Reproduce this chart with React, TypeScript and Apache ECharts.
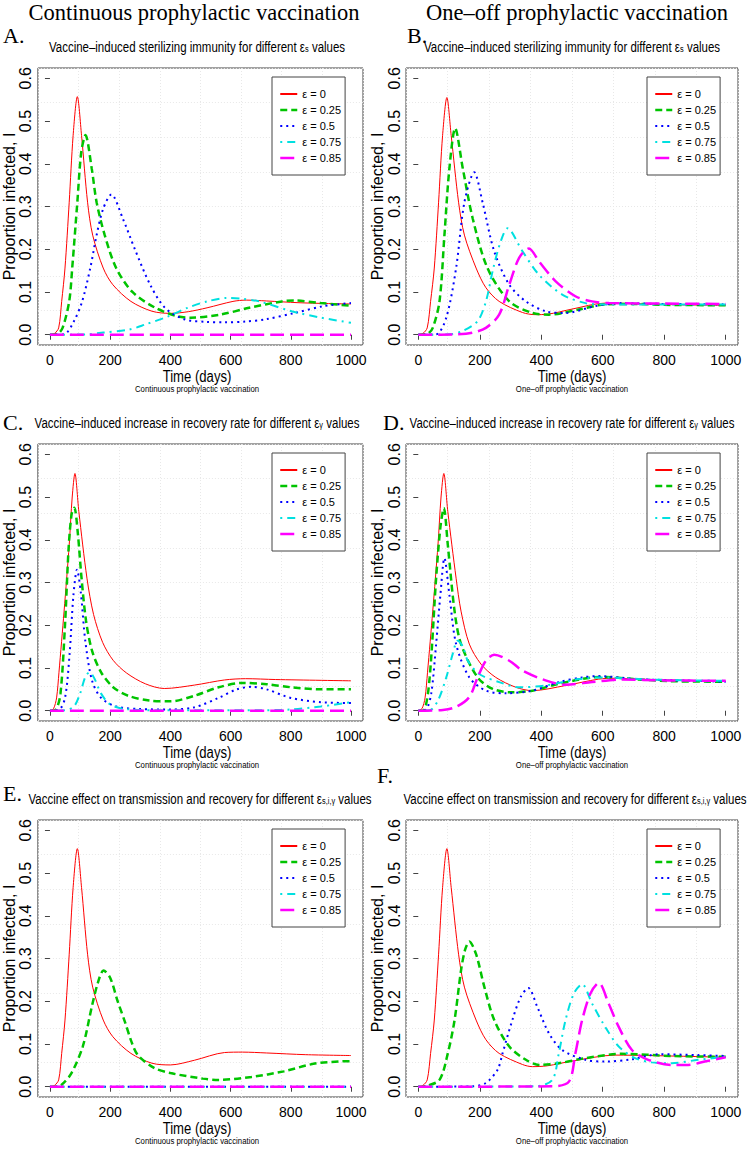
import React, { useEffect, useRef } from "react";
import * as echarts from "echarts";

type Pt = [number, number];

const epsLabels = ["ε = 0", "ε = 0.25", "ε = 0.5", "ε = 0.75", "ε = 0.85"];
const xTickValues = [0, 200, 400, 600, 800, 1000];
const yTickValues = [0, 0.1, 0.2, 0.3, 0.4, 0.5, 0.6];
const columnHeaders = ["Continuous prophylactic vaccination", "One–off prophylactic vaccination"];
const panelLetters = ["A.", "B.", "C.", "D.", "E.", "F."];
const titleStems = [
  "Vaccine–induced sterilizing immunity for different ε",
  "Vaccine–induced increase in recovery rate for different ε",
  "Vaccine effect on transmission and recovery for different ε",
];
const titleSubs = ["s", "γ", "s,i,γ"];
const xName = "Time (days)";
const yName = "Proportion infected, I";

// Panel A: continuous, sterilizing immunity
const A_e0: Pt[] = [[0,0],[15,0.003],[29,0.016],[39,0.078],[50,0.156],[64,0.31],[77,0.466],[91,0.557],[105,0.466],[125,0.31],[142,0.233],[177,0.156],[209,0.117],[269,0.078],[339,0.055],[400,0.05],[460,0.054],[522,0.063],[608,0.078],[652,0.081],[720,0.079],[824,0.075],[920,0.073],[1000,0.072]];
const A_e25: Pt[] = [[0,0],[25,0.002],[42,0.016],[64,0.078],[74,0.156],[91,0.31],[104,0.427],[118,0.467],[139,0.388],[155,0.31],[182,0.233],[220,0.156],[274,0.1],[350,0.063],[425,0.043],[468,0.04],[565,0.047],[662,0.063],[770,0.078],[813,0.08],[900,0.074],[1000,0.068]];
const A_e50: Pt[] = [[0,0],[47,0.001],[80,0.032],[107,0.078],[134,0.156],[155,0.233],[177,0.295],[204,0.328],[242,0.272],[285,0.195],[333,0.117],[382,0.063],[447,0.036],[520,0.03],[580,0.029],[650,0.031],[716,0.036],[813,0.051],[910,0.067],[1000,0.074]];
const A_e75: Pt[] = [[0,0],[123,0.001],[177,0.005],[263,0.012],[317,0.024],[393,0.043],[457,0.063],[522,0.078],[587,0.086],[640,0.084],[695,0.078],[803,0.055],[900,0.04],[1000,0.028]];
const A_e85: Pt[] = [[0,0],[1000,0]];

// Panel B: one-off, sterilizing immunity
const B_e0: Pt[] = [[0,0],[15,0.003],[29,0.016],[40,0.078],[52,0.156],[66,0.31],[79,0.466],[93,0.555],[107,0.466],[131,0.31],[150,0.233],[188,0.156],[220,0.11],[263,0.078],[339,0.052],[380,0.047],[420,0.048],[500,0.06],[608,0.074],[700,0.073],[850,0.07],[1000,0.069]];
const B_e25: Pt[] = [[0,0],[30,0.002],[47,0.016],[69,0.078],[85,0.233],[101,0.388],[120,0.483],[145,0.388],[177,0.272],[225,0.156],[296,0.078],[371,0.051],[425,0.047],[522,0.059],[608,0.071],[700,0.072],[800,0.07],[1000,0.069]];
const B_e50: Pt[] = [[0,0],[58,0.001],[91,0.04],[123,0.156],[150,0.31],[182,0.38],[209,0.31],[247,0.195],[296,0.117],[350,0.078],[414,0.055],[479,0.051],[576,0.067],[662,0.074],[800,0.072],[1000,0.071]];
const B_e75: Pt[] = [[0,0],[101,0.001],[145,0.009],[193,0.032],[220,0.078],[244,0.156],[268,0.218],[290,0.249],[339,0.195],[393,0.14],[468,0.094],[544,0.074],[608,0.071],[800,0.071],[1000,0.071]];
const B_e85: Pt[] = [[0,0],[123,0.001],[177,0.005],[220,0.016],[263,0.047],[296,0.117],[328,0.18],[360,0.202],[393,0.171],[447,0.125],[511,0.09],[565,0.078],[620,0.074],[800,0.073],[1000,0.072]];

// Panel C: continuous, recovery rate
const C_e0: Pt[] = [[0,0],[12,0.005],[22,0.03],[30,0.09],[47,0.233],[64,0.388],[74,0.5],[83,0.555],[96,0.466],[123,0.31],[145,0.225],[175,0.16],[210,0.118],[255,0.088],[317,0.063],[380,0.052],[480,0.06],[580,0.072],[650,0.075],[750,0.073],[1000,0.07]];
const C_e25: Pt[] = [[0,0],[20,0.003],[35,0.04],[50,0.2],[62,0.38],[72,0.46],[81,0.475],[92,0.42],[105,0.31],[120,0.21],[140,0.14],[170,0.09],[210,0.055],[260,0.035],[330,0.024],[400,0.022],[480,0.035],[560,0.055],[640,0.065],[720,0.062],[800,0.055],[900,0.05],[1000,0.05]];
const C_e50: Pt[] = [[0,0],[30,0.002],[50,0.03],[65,0.13],[78,0.27],[90,0.33],[102,0.28],[118,0.16],[140,0.07],[170,0.03],[220,0.01],[300,0.004],[400,0.003],[480,0.008],[560,0.03],[620,0.05],[670,0.056],[720,0.05],[800,0.03],[900,0.02],[1000,0.018]];
const C_e75: Pt[] = [[0,0],[50,0.001],[80,0.01],[100,0.04],[118,0.08],[132,0.09],[148,0.075],[170,0.04],[200,0.015],[250,0.004],[400,0.001],[700,0.001],[800,0.003],[900,0.01],[1000,0.02]];
const C_e85: Pt[] = [[0,0],[1000,0]];

// Panel D: one-off, recovery rate
const D_e0: Pt[] = [[0,0],[12,0.005],[22,0.03],[30,0.09],[47,0.233],[64,0.388],[74,0.5],[83,0.555],[96,0.466],[123,0.31],[139,0.233],[166,0.156],[204,0.109],[252,0.078],[317,0.055],[371,0.047],[479,0.059],[587,0.074],[640,0.076],[750,0.073],[1000,0.069]];
const D_e25: Pt[] = [[0,0],[20,0.003],[37,0.078],[58,0.31],[72,0.43],[83,0.474],[96,0.388],[118,0.233],[139,0.156],[193,0.078],[242,0.051],[306,0.043],[371,0.047],[457,0.063],[565,0.078],[600,0.079],[700,0.074],[824,0.069],[1000,0.068]];
const D_e50: Pt[] = [[0,0],[25,0.003],[42,0.04],[58,0.156],[72,0.272],[85,0.357],[101,0.272],[123,0.156],[166,0.078],[220,0.047],[285,0.041],[371,0.047],[457,0.067],[533,0.078],[587,0.081],[716,0.074],[1000,0.068]];
const D_e75: Pt[] = [[0,0],[37,0.001],[64,0.024],[91,0.078],[112,0.133],[128,0.164],[145,0.15],[161,0.117],[198,0.086],[263,0.067],[328,0.055],[414,0.059],[522,0.074],[600,0.078],[750,0.073],[1000,0.07]];
const D_e85: Pt[] = [[0,0],[80,0.002],[123,0.009],[166,0.032],[193,0.078],[220,0.117],[247,0.131],[296,0.117],[339,0.094],[414,0.071],[479,0.061],[565,0.067],[662,0.073],[800,0.071],[1000,0.07]];

// Panel E: continuous, transmission and recovery
const E_e0: Pt[] = [[0,0],[15,0.003],[29,0.016],[39,0.078],[50,0.156],[64,0.31],[77,0.466],[91,0.557],[105,0.466],[125,0.31],[142,0.233],[177,0.156],[209,0.117],[269,0.078],[339,0.055],[400,0.051],[480,0.062],[580,0.08],[640,0.081],[720,0.079],[850,0.075],[1000,0.073]];
const E_e25: Pt[] = [[0,0],[25,0.001],[39,0.005],[70,0.03],[109,0.094],[140,0.19],[160,0.245],[178,0.272],[200,0.255],[225,0.2],[250,0.15],[271,0.105],[292,0.074],[346,0.044],[400,0.032],[508,0.019],[560,0.016],[670,0.023],[777,0.036],[886,0.055],[1000,0.06]];
const E_e50: Pt[] = [[0,0],[1000,0]];
const E_e75: Pt[] = [[0,0],[1000,0]];
const E_e85: Pt[] = [[0,0],[1000,0]];

// Panel F: one-off, transmission and recovery
const F_e0: Pt[] = [[0,0],[15,0.003],[29,0.016],[40,0.078],[52,0.156],[66,0.31],[79,0.466],[93,0.557],[107,0.466],[131,0.31],[150,0.233],[188,0.156],[220,0.11],[263,0.078],[339,0.052],[371,0.047],[420,0.049],[500,0.06],[641,0.074],[750,0.073],[1000,0.069]];
const F_e25: Pt[] = [[0,0],[26,0.002],[69,0.016],[96,0.078],[118,0.156],[139,0.272],[152,0.32],[166,0.34],[188,0.31],[215,0.233],[247,0.156],[296,0.094],[350,0.063],[393,0.051],[457,0.055],[544,0.067],[662,0.077],[824,0.072],[1000,0.07]];
const F_e50: Pt[] = [[0,0],[177,0.001],[220,0.009],[258,0.04],[274,0.078],[306,0.156],[333,0.21],[358,0.231],[387,0.187],[425,0.125],[468,0.086],[544,0.063],[608,0.059],[695,0.064],[781,0.076],[910,0.074],[1000,0.072]];
const F_e75: Pt[] = [[0,0],[382,0.001],[436,0.016],[457,0.078],[479,0.156],[506,0.218],[533,0.24],[565,0.195],[608,0.14],[652,0.094],[705,0.067],[759,0.057],[824,0.055],[910,0.063],[1000,0.07]];
const F_e85: Pt[] = [[0,0],[436,0.001],[490,0.012],[511,0.078],[533,0.156],[560,0.218],[587,0.243],[619,0.195],[652,0.14],[695,0.086],[748,0.063],[824,0.051],[878,0.051],[932,0.059],[1000,0.069]];

const panelSeries: Pt[][][] = [
  [A_e0, A_e25, A_e50, A_e75, A_e85],
  [B_e0, B_e25, B_e50, B_e75, B_e85],
  [C_e0, C_e25, C_e50, C_e75, C_e85],
  [D_e0, D_e25, D_e50, D_e75, D_e85],
  [E_e0, E_e25, E_e50, E_e75, E_e85],
  [F_e0, F_e25, F_e50, F_e75, F_e85],
];

const SANS = "'Liberation Sans', Arial, sans-serif";
const SERIF = "'Liberation Serif', 'Times New Roman', serif";
const NARROW_SCALE = 0.82;

const lineColors = ["#ff0000", "#00c400", "#0000ff", "#00e0e0", "#ff00ff"];
const lineWidths = [1, 2.5, 2, 2, 2.5];
const legendWidths = [2, 2.5, 2, 2, 2.5];
const lineDash: any[] = ["solid", [7, 4], [2, 4], [2, 5, 8, 5], [14, 6]];

const colLeft = [31, 406];
const rowTop = [68, 444, 820];
const plotW = 332;
const plotH = 277;

function buildOption() {
  const grid: any[] = [];
  const xAxis: any[] = [];
  const yAxis: any[] = [];
  const series: any[] = [];
  const legend: any[] = [];
  const graphic: any[] = [];

  for (let p = 0; p < 6; p++) {
    const row = Math.floor(p / 2);
    const col = p % 2;
    const left = colLeft[col];
    const top = rowTop[row];
    grid.push({ left, top, width: plotW, height: plotH, show: true, borderColor: "#444", borderWidth: 1, backgroundColor: "rgba(0,0,0,0)" });

    xAxis.push({
      gridIndex: p, type: "value", min: -40, max: 1040,
      axisLine: { show: false },
      axisTick: { show: true, customValues: xTickValues, length: 5, lineStyle: { color: "#444" } },
      axisLabel: { customValues: xTickValues, margin: 8, fontSize: 14, fontFamily: SANS, color: "#000", formatter: (v: number) => String(v) },
      splitLine: { show: false },
    });
    xAxis.push({
      gridIndex: p, type: "value", min: 0, max: 8, interval: 1,
      axisLine: { show: false }, axisTick: { show: false }, axisLabel: { show: false },
      splitLine: { show: true, lineStyle: { color: "#e8e8e8", width: 1, type: [1, 2] } },
    });
    yAxis.push({
      gridIndex: p, type: "value", min: -0.024, max: 0.624,
      axisLine: { show: false },
      axisTick: { show: true, customValues: yTickValues, length: 5, lineStyle: { color: "#444" } },
      axisLabel: { customValues: yTickValues, rotate: 90, margin: 4, fontSize: 16, fontFamily: SANS, color: "#000", formatter: (v: number) => v.toFixed(1) },
      splitLine: { show: false },
      name: yName, nameLocation: "middle", nameGap: 15,
      nameTextStyle: { fontSize: 16, fontFamily: SANS, color: "#000" },
    });
    yAxis.push({
      gridIndex: p, type: "value", min: 0, max: 8, interval: 1,
      axisLine: { show: false }, axisTick: { show: false }, axisLabel: { show: false },
      splitLine: { show: true, lineStyle: { color: "#e8e8e8", width: 1, type: [1, 2] } },
    });

    panelSeries[p].forEach((data, k) => {
      series.push({
        type: "line", name: epsLabels[k], xAxisIndex: 2 * p, yAxisIndex: 2 * p,
        data, showSymbol: false, symbol: "none", smooth: 0.3,
        lineStyle: { color: lineColors[k], width: lineWidths[k], type: lineDash[k] },
        itemStyle: { color: lineColors[k] },
        silent: true, z: 3,
      });
    });

    legend.push({
      left: left + 241, top: top + 9, orient: "vertical", selectedMode: false,
      data: epsLabels.map((n, k) => ({ name: n, lineStyle: { width: legendWidths[k] } })),
      itemStyle: { color: "rgba(0,0,0,0)", borderWidth: 0, opacity: 0 },
      borderColor: "#444", borderWidth: 1, backgroundColor: "#fff",
      padding: [11, 4, 11, 7], itemWidth: 17, itemHeight: 10, itemGap: 4,
      textStyle: { fontSize: 11, lineHeight: 12, fontFamily: SANS, color: "#000" },
    });

    const cx = left + plotW / 2 + (row === 2 ? 3 : 0);
    // Panel title (narrow Helvetica look)
    graphic.push({
      type: "text", x: cx, y: top - 22, scaleX: NARROW_SCALE,
      style: {
        text: `{n|${titleStems[row]}}{s|${titleSubs[row]}}{n| values}`,
        align: "center", verticalAlign: "middle",
        rich: {
          n: { fontSize: 14, fontFamily: SANS, fill: "#000", lineHeight: 16, verticalAlign: "bottom" },
          s: { fontSize: 9, fontFamily: SANS, fill: "#000", lineHeight: 4, verticalAlign: "bottom" },
        },
      },
    });
    // x-axis title
    graphic.push({
      type: "text", x: left + plotW / 2, y: top + plotH + 32, scaleX: NARROW_SCALE,
      style: { text: xName, font: `16px ${SANS}`, fill: "#000", align: "center", verticalAlign: "middle" },
    });
    // Sub caption under x axis name
    graphic.push({
      type: "text", x: left + plotW / 2, y: top + plotH + 44, scaleX: NARROW_SCALE,
      style: { text: columnHeaders[col], font: `9.5px ${SANS}`, fill: "#000", align: "center", verticalAlign: "middle" },
    });
  }

  const letterPos: Pt[] = [[3, 35], [407, 35], [3, 422], [383, 422], [3, 793], [377, 775]];
  panelLetters.forEach((t, i) => {
    graphic.push({
      type: "text", x: letterPos[i][0], y: letterPos[i][1],
      style: { text: t, font: `22px ${SERIF}`, fill: "#000", align: "left", verticalAlign: "middle" },
    });
  });
  columnHeaders.forEach((t, c) => {
    graphic.push({
      type: "text", x: c === 0 ? 194 : 577, y: 12,
      style: { text: t, font: `22.5px ${SERIF}`, fill: "#000", align: "center", verticalAlign: "middle" },
    });
  });

  return { animation: false, backgroundColor: "#fff", grid, xAxis, yAxis, series, legend, graphic };
}

export default function App() {
  const ref = useRef<HTMLDivElement>(null);
  useEffect(() => {
    if (!ref.current) return;
    const chart = echarts.init(ref.current, undefined, { renderer: "svg" });
    chart.setOption(buildOption() as any);
    return () => chart.dispose();
  }, []);
  return <div ref={ref} style={{ position: "absolute", left: 0, top: 0, width: 749, height: 1150, background: "#fff" }} />;
}
